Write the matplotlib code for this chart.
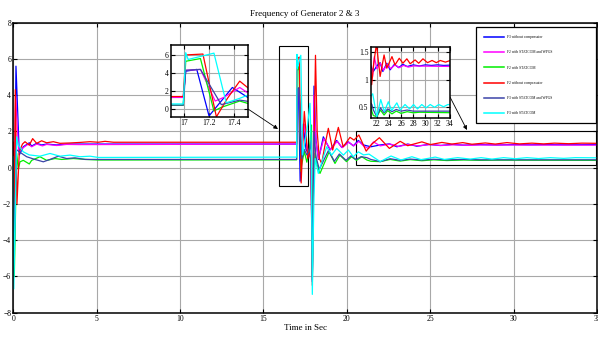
import matplotlib
matplotlib.use("Agg")
import matplotlib.pyplot as plt
from matplotlib.patches import Rectangle

plt.rcParams["font.family"] = ["Liberation Serif", "DejaVu Serif"]

# ---- data ----
labels = ["F3 without compensator", "F2 with STATCOM and WPGS", "F2 with STATCOM",
          "F2 without compensator", "F3 with STATCOM and WPGS", "F3 with STATCOM"]
colors = ["#0000FF", "#FF00FF", "#00EE00", "#FF0000", "#3C44A8", "#00FFFF"]

f3_nocomp_t = [0, 0.04, 0.16, 0.36, 0.6, 0.96, 1.1, 1.4, 1.7, 2.0, 2.6, 3.2, 4.0, 16.99, 17.01,
               17.1, 17.2, 17.39, 17.55, 17.7, 17.85, 17.93, 18.03, 18.15, 18.3, 18.59, 19.0,
               19.39, 19.69, 20.09, 20.39, 20.69, 21.0, 21.44, 22.0, 22.55, 23.0, 23.65, 24.2,
               24.9, 25.6, 26.3, 27.0, 28.0, 29.0, 30.0, 31.0, 32.0, 33.0, 35.0]
f3_nocomp_y = [1.3, -5.8, 5.6, 0.7, 1.15, 1.37, 1.19, 1.34, 1.25, 1.3, 1.25, 1.3, 1.3, 1.3, 4.2,
               4.4, -0.75, 2.4, 1.0, 0.8, 0.5, -6.3, 4.5, 1.5, 0.45, 1.7, 0.97,
               1.5, 1.12, 1.42, 1.2, 1.5, 1.25, 1.15, 1.25, 1.31, 1.15, 1.3, 1.18,
               1.28, 1.22, 1.28, 1.24, 1.27, 1.25, 1.27, 1.26, 1.27, 1.26, 1.27]

f2_sw_t = [0, 0.05, 0.14, 0.32, 0.6, 0.9, 1.1, 1.4, 1.75, 2.0, 2.6, 3.2, 4.0, 16.99, 17.01,
           17.13, 17.25, 17.32, 17.45, 17.55, 17.7, 17.85, 17.93, 18.03, 18.15, 18.3, 18.62,
           19.02, 19.42, 19.72, 20.12, 20.42, 20.72, 21.0, 21.3, 21.6, 22.0, 22.6, 23.1, 23.7,
           24.3, 25.0, 25.7, 26.4, 27.2, 28.0, 35.0]
f2_sw_y = [1.3, -4.0, 4.0, 0.9, 1.1, 1.3, 1.15, 1.3, 1.2, 1.28, 1.22, 1.28, 1.27, 1.3, 4.3,
           4.4, 0.9, 1.3, 2.4, 1.5, 0.8, 0.6, -6.0, 4.0, 1.4, 0.5, 1.6,
           1.0, 1.45, 1.1, 1.4, 1.2, 1.45, 1.2, 1.05, 1.42, 1.2, 1.3, 1.17, 1.28,
           1.2, 1.27, 1.22, 1.26, 1.23, 1.25, 1.24]

f2_s_t = [0, 0.06, 0.2, 0.3, 0.4, 0.6, 0.96, 1.1, 1.6, 2.0, 2.5, 2.9, 3.6, 4.4, 5.1, 16.99,
          17.01, 17.13, 17.24, 17.3, 17.45, 17.6, 17.75, 17.88, 17.93, 18.0, 18.1, 18.2,
          18.39, 18.94, 19.29, 19.58, 19.98, 20.28, 20.58, 20.9, 21.2, 21.44, 22.0, 22.6,
          23.2, 23.8, 24.5, 25.2, 26.0, 27.0, 28.0, 29.0, 35.0]
f2_s_y = [0.45, -6.0, 0.8, -0.1, 0.32, 0.4, 0.2, 0.4, 0.6, 0.4, 0.5, 0.45, 0.5, 0.45, 0.42, 0.43,
          5.3, 5.6, -0.2, 0.2, 0.9, 0.3, 1.0, 2.35, -6.0, -1.0, 0.8, 0.2,
          -0.32, 0.87, 0.23, 0.69, 0.33, 0.6, 0.4, 0.6, 0.42, 0.35, 0.33, 0.45,
          0.36, 0.44, 0.38, 0.43, 0.39, 0.42, 0.4, 0.41, 0.4]

f2_nocomp_t = [0, 0.05, 0.12, 0.22, 0.36, 0.55, 0.7, 0.96, 1.16, 1.4, 1.7, 2.0, 2.4, 2.8, 3.4,
               4.0, 4.6, 5.1, 5.5, 6.0, 16.99, 17.01, 17.15, 17.26, 17.35, 17.45, 17.55, 17.65,
               17.75, 17.85, 17.93, 18.02, 18.12, 18.22, 18.35, 18.49, 18.7, 18.89, 19.15,
               19.49, 19.78, 20.19, 20.43, 20.72, 21.16, 21.5, 21.95, 22.55, 23.2, 23.65, 24.5,
               25.0, 25.7, 26.3, 26.95, 27.5, 28.3, 28.9, 29.6, 30.35, 31.1, 31.8, 32.45, 33.3,
               34.1, 35.0]
f2_nocomp_y = [1.4, -3.0, 4.3, -2.0, 0.87, 1.3, 1.43, 1.24, 1.6, 1.34, 1.48, 1.37, 1.43, 1.34, 1.36,
               1.39, 1.43, 1.4, 1.45, 1.4, 1.4, 6.0, 6.1, -0.85, 1.2, 3.1, 2.0, 0.5,
               0.9, 0.3, -6.5, 0.5, 6.2, 2.0, 0.5, 0.23, 1.3, 2.17, 0.97,
               2.22, 1.15, 1.67, 1.52, 1.8, 0.91, 1.3, 1.65, 1.06, 1.45, 1.21, 1.42,
               1.27, 1.39, 1.3, 1.38, 1.29, 1.36, 1.3, 1.38, 1.31, 1.35, 1.31, 1.35, 1.32,
               1.35, 1.34]

f3_sw_t = [0, 0.05, 0.18, 0.36, 0.8, 1.3, 1.8, 2.2, 2.7, 3.2, 3.7, 4.3, 16.99, 17.01, 17.13,
           17.3, 17.45, 17.6, 17.75, 17.85, 17.93, 18.03, 18.15, 18.35, 18.9, 19.25, 19.55,
           19.95, 20.25, 20.55, 20.85, 21.2, 21.44, 22.0, 22.6, 23.2, 23.8, 24.5, 25.2, 26.0,
           27.0, 28.0, 35.0]
f3_sw_y = [0.45, -5.0, 1.0, 0.87, 0.6, 0.45, 0.32, 0.45, 0.63, 0.5, 0.54, 0.45, 0.45, 4.3, 4.4,
           0.5, 1.0, 0.7, 0.9, 1.5, -6.2, 2.0, 0.6, -0.1, 0.95, 0.35, 0.75,
           0.4, 0.65, 0.45, 0.6, 0.55, 0.45, 0.33, 0.49, 0.4, 0.47, 0.42, 0.46, 0.43,
           0.45, 0.43, 0.43]

f3_s_t = [0, 0.03, 0.2, 0.3, 0.6, 0.96, 1.6, 2.2, 2.8, 3.4, 4.0, 4.6, 5.1, 16.99, 17.01, 17.03,
          17.24, 17.34, 17.45, 17.6, 17.79, 17.87, 17.93, 18.02, 18.1, 18.29, 18.79, 19.09,
          19.39, 19.79, 20.09, 20.39, 20.69, 21.0, 21.33, 22.0, 22.65, 23.25, 23.9, 24.45,
          25.3, 25.85, 26.65, 27.4, 28.05, 28.7, 29.4, 30.1, 30.8, 31.5, 32.2, 33.0, 33.7, 35.0]
f3_s_y = [0.6, -6.7, 1.7, 1.24, 0.87, 0.7, 0.63, 0.78, 0.63, 0.69, 0.6, 0.63, 0.56, 0.58, 6.25, 5.5,
          6.2, 0.7, 1.2, 2.0, 3.55, 1.0, -7.0, -2.0, 0.5, -0.32, 1.15, 0.69,
          1.06, 0.69, 0.97, 0.6, 0.87, 0.7, 0.745, 0.33, 0.64, 0.42, 0.6, 0.44,
          0.58, 0.45, 0.55, 0.47, 0.55, 0.47, 0.55, 0.49, 0.55, 0.5, 0.55, 0.51, 0.55, 0.54]

series = [(f3_nocomp_t, f3_nocomp_y), (f2_sw_t, f2_sw_y), (f2_s_t, f2_s_y),
          (f2_nocomp_t, f2_nocomp_y), (f3_sw_t, f3_sw_y), (f3_s_t, f3_s_y)]

main_xticks = [0, 5, 10, 15, 20, 25, 30, 35]
main_yticks = [-8, -6, -4, -2, 0, 2, 4, 6, 8]
in1_xticks = [17, 17.2, 17.4]
in1_yticks = [0, 2, 4, 6]
in2_xticks = [22, 24, 26, 28, 30, 32, 34]
in2_yticks = [0.5, 1, 1.5]


def style_axes(ax, fs):
    ax.grid(True, color="#a8a8a8", lw=0.8)
    ax.set_axisbelow(True)
    ax.tick_params(direction="in", top=True, right=True, length=3, width=0.8,
                   labelsize=fs, pad=1.5)
    for s in ax.spines.values():
        s.set_linewidth(1.1)


fig = plt.figure(figsize=(5.98, 3.4), dpi=100)
ax = fig.add_axes([13.3 / 598, 27.5 / 340, 583.7 / 598, 289.8 / 340])
for (t, y), c, lab in zip(series, colors, labels):
    ax.plot(t, y, color=c, lw=0.9, label=lab)
ax.set_xlim(0, 35)
ax.set_ylim(-8, 8)
ax.set_xticks(main_xticks)
ax.set_yticks(main_yticks)
style_axes(ax, 5.5)
ax.set_title("Frequency of Generator 2 & 3", fontsize=6.5, pad=5)
ax.set_xlabel("Time in Sec", fontsize=6.5, labelpad=1)

# zoom boxes on main axes
ax.add_patch(Rectangle((15.93, -1.0), 17.69 - 15.93, 6.73 + 1.0, fill=False, ec="k", lw=0.8))
ax.add_patch(Rectangle((20.55, 0.14), 34.95 - 20.55, 2.0 - 0.14, fill=False, ec="k", lw=0.8))

# inset 1
ax1 = fig.add_axes([171 / 598, (340 - 117.3) / 340, 77.3 / 598, 72.3 / 340])
for (t, y), c in zip(series, colors):
    ax1.plot(t, y, color=c, lw=0.9)
ax1.set_xlim(16.89, 17.52)
ax1.set_ylim(-0.9, 7.1)
ax1.set_xticks(in1_xticks)
ax1.set_xticklabels(["17", "17.2", "17.4"])
ax1.set_yticks(in1_yticks)
style_axes(ax1, 5.5)

# inset 2
ax2 = fig.add_axes([370.7 / 598, (340 - 118.3) / 340, 79.3 / 598, 71.6 / 340])
for (t, y), c in zip(series, colors):
    ax2.plot(t, y, color=c, lw=0.9)
ax2.set_xlim(21.0, 34.05)
ax2.set_ylim(0.3, 1.6)
ax2.set_xticks(in2_xticks)
ax2.set_yticks(in2_yticks)
ax2.set_yticklabels(["0.5", "1", "1.5"])
style_axes(ax2, 5.5)

# arrows from insets to zoom boxes
ap = dict(arrowstyle="-|>", color="k", lw=0.6, mutation_scale=6, shrinkA=0, shrinkB=0)
ax.annotate("", xy=(278 / 598, (340 - 129) / 340), xytext=(248 / 598, (340 - 109) / 340),
            xycoords="figure fraction", textcoords="figure fraction", arrowprops=ap)
ax.annotate("", xy=(467 / 598, (340 - 130) / 340), xytext=(450 / 598, (340 - 97) / 340),
            xycoords="figure fraction", textcoords="figure fraction", arrowprops=ap)

leg = fig.legend(loc="upper left", bbox_to_anchor=(476 / 598, 0, 120 / 598, (340 - 27.3) / 340),
                 mode="expand", borderaxespad=0, fontsize=2.6, fancybox=False,
                 edgecolor="k", framealpha=1, labelspacing=3.1, borderpad=2.2,
                 handlelength=5.5, handletextpad=1.0)
leg.get_frame().set_linewidth(0.9)
for h in leg.get_lines():
    h.set_linewidth(1.1)

fig.savefig("out.png", dpi=100)
